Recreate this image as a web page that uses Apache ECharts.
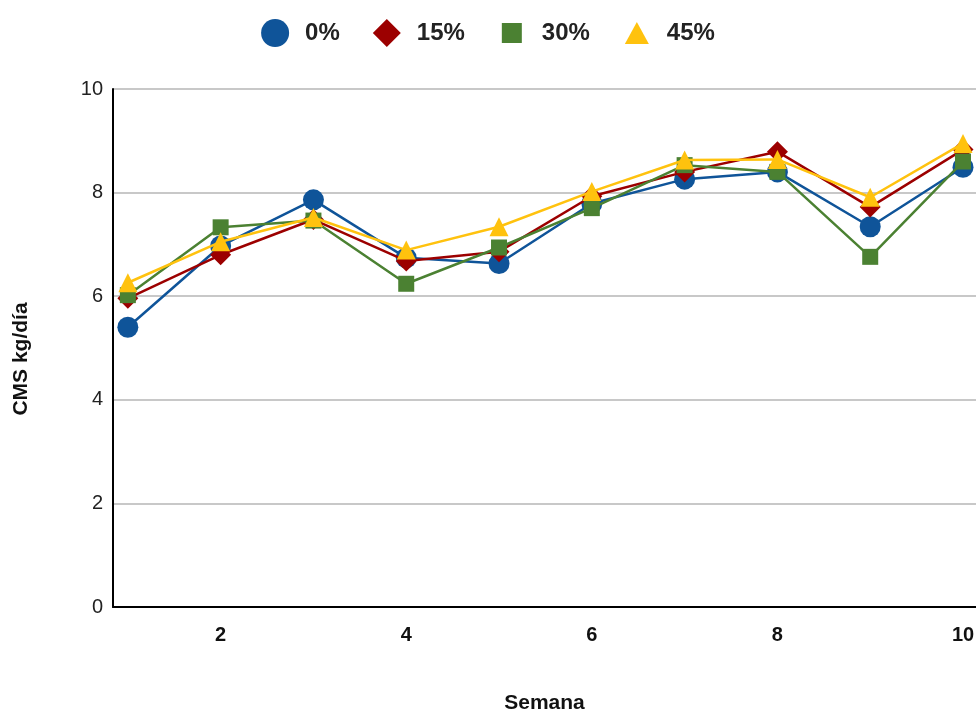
<!DOCTYPE html>
<html>
<head>
<meta charset="utf-8">
<script src="https://cdn.jsdelivr.net/npm/echarts@6/dist/echarts.min.js"></script>
<style>
  html, body { margin: 0; padding: 0; background: #fff; }
  #chart { width: 976px; height: 713px; }
</style>
</head>
<body>
<div id="chart"></div>
<script>
// Weekly dry-matter intake (kg/day) per inclusion level
const weeks = [1, 2, 3, 4, 5, 6, 7, 8, 9, 10];
const seriesNames = ['0%', '15%', '30%', '45%'];
const intake0 = [5.40, 6.97, 7.86, 6.74, 6.63, 7.79, 8.26, 8.40, 7.34, 8.49];
const intake15 = [5.96, 6.80, 7.48, 6.68, 6.86, 7.93, 8.40, 8.79, 7.72, 8.83];
const intake30 = [6.02, 7.33, 7.46, 6.24, 6.94, 7.70, 8.53, 8.40, 6.76, 8.60];
const intake45 = [6.26, 7.05, 7.52, 6.89, 7.34, 8.02, 8.63, 8.64, 7.91, 8.95];
const xTicks = [2, 4, 6, 8, 10];
const yTicks = [0, 2, 4, 6, 8, 10];

const colors = ['#0F5499', '#9C0000', '#4B8132', '#FFC20E'];
const symbols = ['circle', 'diamond', 'rect', 'triangle'];
const symbolSizes = [21, 21, 16, 19];
const legendIcons = [
  'circle',
  'diamond',
  'path://M0,0M28,28M4,4h20v20h-20z',
  'path://M0,0M28,28M2,25L14,3L26,25z'
];
const values = [intake0, intake15, intake30, intake45];

const chart = echarts.init(document.getElementById('chart'), null, { renderer: 'canvas' });

const series = seriesNames.map((name, i) => ({
  name: name,
  type: 'line',
  data: weeks.map((w, j) => [w, values[i][j]]),
  symbol: symbols[i],
  symbolSize: symbolSizes[i],
  z: 2 + i,
  lineStyle: { color: colors[i], width: 2.5 },
  itemStyle: { color: colors[i] },
  emphasis: { disabled: true },
  animation: false
}));

chart.setOption({
  animation: false,
  legend: {
    top: 14,
    left: 'center',
    itemWidth: 28,
    itemHeight: 28,
    itemGap: 33,
    data: seriesNames.map((n, i) => ({ name: n, icon: legendIcons[i], itemStyle: { color: colors[i] } })),
    textStyle: {
      fontFamily: 'Liberation Sans',
      fontWeight: 'bold',
      fontSize: 24,
      color: '#222',
      padding: [0, 0, 0, 11]
    }
  },
  grid: { left: 113, right: 0, top: 89, bottom: 106, outerBoundsMode: 'none', containLabel: false },
  xAxis: {
    type: 'value',
    min: 0.84,
    max: 10.14,
    name: 'Semana',
    nameLocation: 'middle',
    nameGap: 86,
    nameTextStyle: { fontFamily: 'Liberation Sans', fontWeight: 'bold', fontSize: 21, color: '#111' },
    axisLine: { show: true, lineStyle: { color: '#000', width: 2 } },
    axisTick: { show: false },
    splitLine: { show: false },
    axisLabel: {
      customValues: xTicks,
      margin: 18,
      fontFamily: 'Liberation Sans',
      fontWeight: 'bold',
      fontSize: 20,
      color: '#111'
    }
  },
  yAxis: {
    type: 'value',
    min: 0,
    max: 10,
    interval: 2,
    name: 'CMS kg/día',
    nameLocation: 'middle',
    nameGap: 81,
    nameRotate: 90,
    nameTextStyle: { fontFamily: 'Liberation Sans', fontWeight: 'bold', fontSize: 21, color: '#111', padding: [0, 0, 0, -22] },
    axisLine: { show: true, lineStyle: { color: '#000', width: 2 } },
    axisTick: { show: false },
    splitLine: { show: true, lineStyle: { color: '#c8c8c8', width: 2 } },
    axisLabel: {
      customValues: yTicks,
      margin: 10,
      fontFamily: 'Liberation Sans',
      fontSize: 20,
      color: '#222'
    }
  },
  series: series
});
</script>
</body>
</html>
